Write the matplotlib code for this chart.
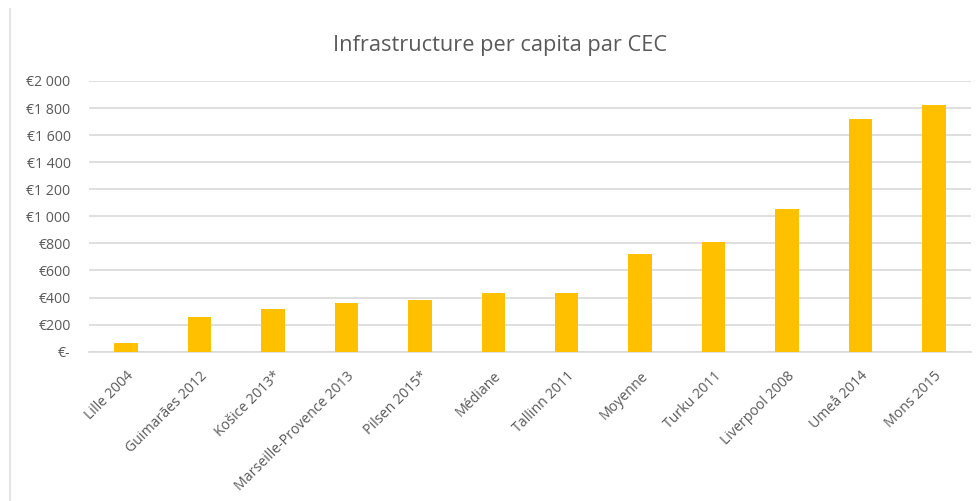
import matplotlib
matplotlib.use("Agg")
import matplotlib.pyplot as plt
from matplotlib.lines import Line2D

categories = ["Lille 2004", "Guimarães 2012", "Košice 2013*", "Marseille-Provence 2013",
              "Pilsen 2015*", "Médiane", "Tallinn 2011", "Moyenne", "Turku 2011",
              "Liverpool 2008", "Umeå 2014", "Mons 2015"]
values = [62, 254, 318, 357, 382, 434, 434, 722, 808, 1052, 1722, 1823]
ytick_values = [0, 200, 400, 600, 800, 1000, 1200, 1400, 1600, 1800, 2000]
ytick_labels = ["€-", "€200", "€400", "€600", "€800", "€1 000", "€1 200",
                "€1 400", "€1 600", "€1 800", "€2 000"]
title = "Infrastructure per capita par CEC"

plt.rcParams['font.family'] = ['Open Sans', 'DejaVu Sans']
text_color = "#595959"

W, H = 979, 501
fig = plt.figure(figsize=(W / 100, H / 100), dpi=100)
ax = fig.add_axes([89.3 / W, 1 - 351.7 / H, (970.7 - 89.3) / W, (351.7 - 81) / H])

x = list(range(len(categories)))
ax.bar(x, values, width=0.32, color="#FFC000", zorder=3)

ax.set_xlim(-0.5, len(categories) - 0.5)
ax.set_ylim(0, 2000)
ax.set_yticks(ytick_values)
ax.set_yticklabels(ytick_labels)
ax.set_xticks(x)
ax.set_xticklabels(categories, rotation=45, ha="right", rotation_mode="anchor")

ax.tick_params(axis="y", length=0, pad=13.5, labelsize=10.2, labelcolor=text_color)
ax.tick_params(axis="x", length=0, pad=12, labelsize=10.2, labelcolor=text_color)

ax.yaxis.grid(True, color="#d9d9d9", linewidth=1.2, zorder=0)
ax.set_axisbelow(True)
for s in ["top", "right", "left"]:
    ax.spines[s].set_visible(False)
ax.spines["bottom"].set_color("#d9d9d9")
ax.spines["bottom"].set_linewidth(1.2)

fig.text(500 / W, 1 - 45 / H, title, ha="center", va="center",
         fontsize=15.7, color=text_color)

fig.add_artist(Line2D([10 / W, 10 / W], [0, 1 - 9 / H], color="#e3e3e3",
                      linewidth=1.5, transform=fig.transFigure))

fig.savefig("out.png", dpi=100, facecolor="white")
